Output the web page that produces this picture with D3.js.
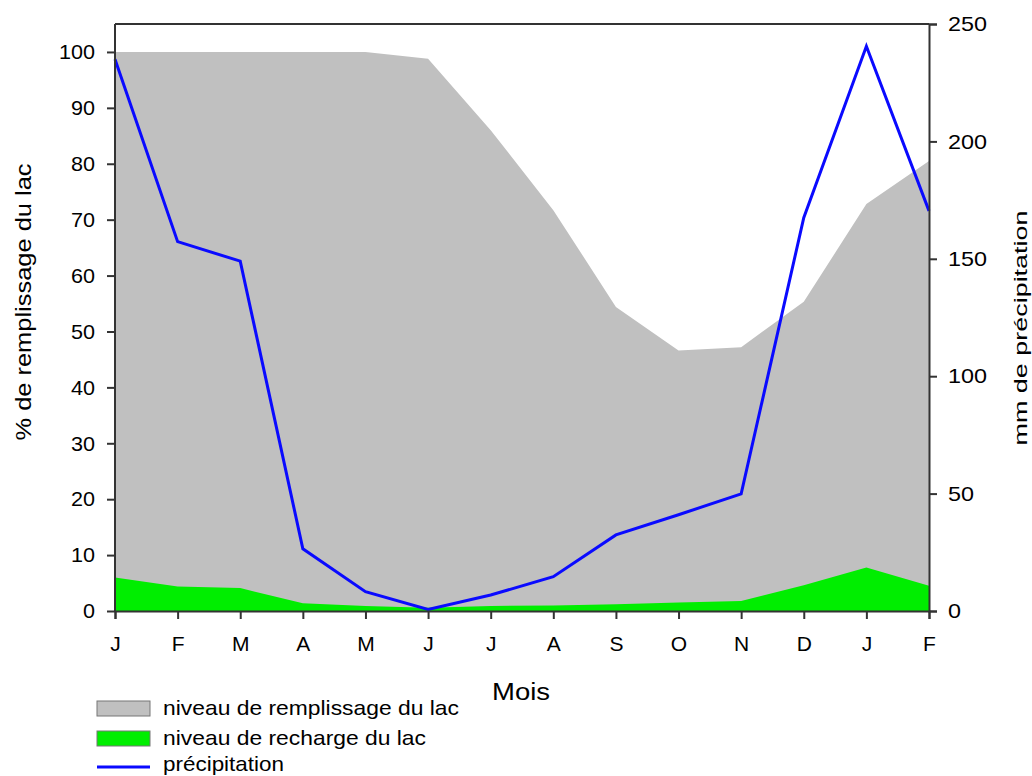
<!DOCTYPE html>
<html>
<head>
<meta charset="utf-8">
<script src="https://cdn.jsdelivr.net/npm/d3@7.9.0/dist/d3.min.js"></script>
<style>
  body { margin: 0; background: #fff; }
  svg { font-family: "Liberation Sans", Arial, sans-serif; }
</style>
</head>
<body>
<div id="viz"></div>
<script>
// months J (jan) .. F (feb of next year)
const months = ["J", "F", "M", "A", "M", "J", "J", "A", "S", "O", "N", "D", "J", "F"];
// % lake fill level
const remplissage = [100, 100, 100, 100, 100, 98.8, 86.0, 71.7, 54.4, 46.6, 47.2, 55.3, 72.8, 80.5];
// % lake recharge level
const recharge = [6.0, 4.4, 4.1, 1.4, 0.9, 0.6, 0.9, 1.0, 1.2, 1.5, 1.8, 4.6, 7.8, 4.5];
// precipitation in mm
const precipitation = [235, 157.3, 149, 26.5, 8.2, 0.7, 6.8, 14.6, 32.4, 41, 49.9, 167.5, 240.5, 170.4];

const leftTicks = [0, 10, 20, 30, 40, 50, 60, 70, 80, 90, 100];
const rightTicks = [0, 50, 100, 150, 200, 250];

const width = 1032, height = 776;
const margin = { top: 24, right: 103, bottom: 165, left: 115 };
const innerWidth = width - margin.left - margin.right;
const innerHeight = height - margin.top - margin.bottom;

const svg = d3.select("#viz")
  .append("svg")
  .attr("width", width)
  .attr("height", height);

const chart = svg.append("g")
  .attr("transform", `translate(${margin.left},${margin.top})`);

const x = d3.scaleLinear()
  .domain([0, months.length - 1])
  .range([0, innerWidth]);

const y = d3.scaleLinear()
  .domain([0, 105])
  .range([innerHeight, 0]);

const y2 = d3.scaleLinear()
  .domain([0, 250])
  .range([innerHeight, 0]);

const area = vals => d3.area()
  .x((d, i) => x(i))
  .y0(y(0))
  .y1(d => y(d))(vals);

chart.append("path")
  .attr("d", area(remplissage))
  .attr("fill", "#c0c0c0");

chart.append("path")
  .attr("d", area(recharge))
  .attr("fill", "#00ee00");

chart.append("path")
  .datum(precipitation)
  .attr("d", d3.line().x((d, i) => x(i)).y(d => y2(d)))
  .attr("fill", "none")
  .attr("stroke", "#0a0aff")
  .attr("stroke-width", 3);

// top border
chart.append("line")
  .attr("x1", 0).attr("x2", innerWidth)
  .attr("y1", 0).attr("y2", 0)
  .attr("stroke", "#333")
  .attr("stroke-width", 2);

function styleAxis(g) {
  g.attr("font-size", null).attr("font-family", null);
  g.selectAll("path, line").attr("stroke", "#333").attr("stroke-width", 2);
  g.selectAll("text").attr("fill", "#000").attr("font-size", 21);
}

// stretch short labels a bit, the original font runs wider
const stretch = (sel, perChar) => sel
  .attr("textLength", d => String(d).length * perChar)
  .attr("lengthAdjust", "spacingAndGlyphs");

chart.append("g")
  .call(d3.axisLeft(y).tickValues(leftTicks).tickSizeOuter(0).tickSize(8).tickPadding(12))
  .call(styleAxis)
  .call(g => g.select(".domain").attr("d", `M0,${innerHeight}V0`))
  .call(g => stretch(g.selectAll(".tick text"), 12));

chart.append("g")
  .attr("transform", `translate(${innerWidth},0)`)
  .call(d3.axisRight(y2).tickValues(rightTicks).tickSizeOuter(0).tickSize(8).tickPadding(11))
  .call(styleAxis)
  .call(g => stretch(g.selectAll(".tick text"), 13));

chart.append("g")
  .attr("transform", `translate(0,${innerHeight})`)
  .call(d3.axisBottom(x).tickValues(d3.range(months.length)).tickFormat(i => months[i])
    .tickSizeOuter(0).tickSize(8).tickPadding(17))
  .call(styleAxis);

// axis titles
svg.append("text")
  .attr("x", 521)
  .attr("y", 700)
  .attr("text-anchor", "middle")
  .attr("font-size", 23)
  .attr("textLength", 58)
  .attr("lengthAdjust", "spacingAndGlyphs")
  .text("Mois");

svg.append("text")
  .attr("transform", "translate(31,302) rotate(-90)")
  .attr("text-anchor", "middle")
  .attr("font-size", 22)
  .attr("textLength", 277)
  .attr("lengthAdjust", "spacingAndGlyphs")
  .text("% de remplissage du lac");

svg.append("text")
  .attr("transform", "translate(1027,328) rotate(-90)")
  .attr("text-anchor", "middle")
  .attr("font-size", 19)
  .attr("textLength", 235)
  .attr("lengthAdjust", "spacingAndGlyphs")
  .text("mm de précipitation");

// legend
const legendItems = [
  { label: "niveau de remplissage du lac", type: "rect", color: "#c0c0c0", len: 296 },
  { label: "niveau de recharge du lac", type: "rect", color: "#00ee00", len: 263 },
  { label: "précipitation", type: "line", color: "#0a0aff", len: 121 }
];
const legendRowY = [701, 731, 761];

const legend = svg.append("g")
  .attr("transform", "translate(97,0)");

legendItems.forEach((item, i) => {
  const g = legend.append("g").attr("transform", `translate(0,${legendRowY[i]})`);
  if (item.type === "rect") {
    g.append("rect")
      .attr("width", 53)
      .attr("height", 15)
      .attr("fill", item.color)
      .attr("stroke", "#777")
      .attr("stroke-width", 1);
  } else {
    g.append("line")
      .attr("x1", 0).attr("x2", 53)
      .attr("y1", 6).attr("y2", 6)
      .attr("stroke", item.color)
      .attr("stroke-width", 3);
  }
  g.append("text")
    .attr("x", 66)
    .attr("y", item.type === "rect" ? 14 : 10)
    .attr("font-size", 21)
    .attr("textLength", item.len)
    .attr("lengthAdjust", "spacingAndGlyphs")
    .text(item.label);
});
</script>
</body>
</html>
